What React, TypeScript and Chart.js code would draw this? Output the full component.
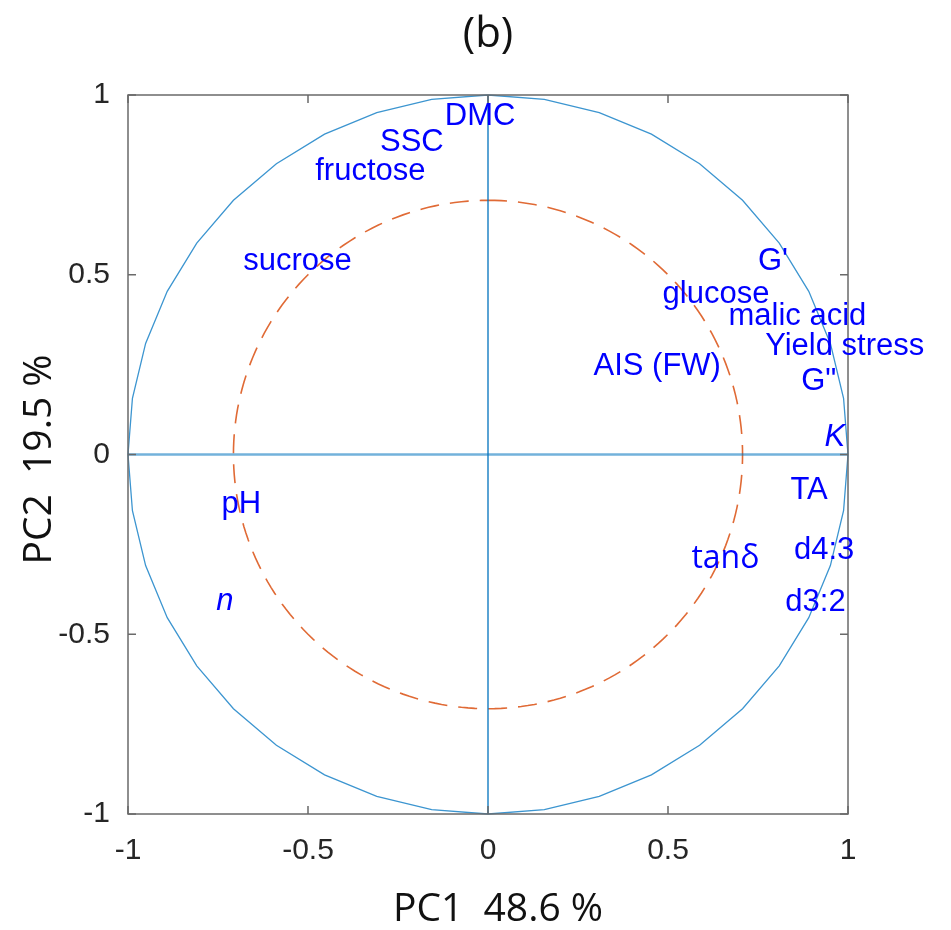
import React, { useEffect, useRef } from "react";
import { Chart, registerables } from "chart.js";

Chart.register(...registerables);

// ---- data ----
const VAR_NAMES = [
  "DMC", "SSC", "fructose", "sucrose", "G'", "glucose", "malic acid",
  "Yield stress", "AIS (FW)", "G\"", "K", "TA", "d4:3", "tanδ", "d3:2", "pH", "n",
];
const PC1_VALUES = [
  -0.12, -0.30, -0.48, -0.68, 0.75, 0.485, 0.668,
  0.77, 0.293, 0.87, 0.935, 0.84, 0.85, 0.565, 0.826, -0.74, -0.755,
];
const PC2_VALUES = [
  0.94, 0.869, 0.786, 0.538, 0.538, 0.446, 0.385,
  0.30, 0.246, 0.203, 0.047, -0.10, -0.266, -0.29, -0.412, -0.14, -0.408,
];
const ITALIC_NAMES = ["K", "n"];
const GREEK_NAMES = ["tanδ"];

const X_TICKS = [-1, -0.5, 0, 0.5, 1];
const Y_TICKS = [-1, -0.5, 0, 0.5, 1];
const X_TITLE = "PC1  48.6 %";
const Y_TITLE = "PC2  19.5 %";
const CHART_TITLE = "(b)";

const UNIT_RADIUS = 1;
const HALF_VAR_RADIUS = Math.SQRT1_2;
const OUTER_SEGMENTS = 40;
const INNER_SEGMENTS = 240;

function circlePath(ctx: CanvasRenderingContext2D, xs: any, ys: any, r: number, n: number) {
  ctx.beginPath();
  for (let i = 0; i <= n; i++) {
    const a = (i / n) * Math.PI * 2;
    const px = xs.getPixelForValue(r * Math.sin(a));
    const py = ys.getPixelForValue(r * Math.cos(a));
    if (i === 0) ctx.moveTo(px, py);
    else ctx.lineTo(px, py);
  }
}

const decorPlugin = {
  id: "decor",
  beforeDatasetsDraw(chart: any) {
    const { ctx, scales } = chart;
    const xs = scales.x;
    const ys = scales.y;
    ctx.save();
    // outer correlation circle
    circlePath(ctx, xs, ys, UNIT_RADIUS, OUTER_SEGMENTS);
    ctx.strokeStyle = "#3C95D0";
    ctx.lineWidth = 1.3;
    ctx.stroke();
    // inner dashed circle
    circlePath(ctx, xs, ys, HALF_VAR_RADIUS, INNER_SEGMENTS);
    ctx.setLineDash([19, 11]);
    ctx.strokeStyle = "#E06A35";
    ctx.lineWidth = 1.6;
    ctx.stroke();
    ctx.setLineDash([]);
    ctx.restore();
  },
  afterDatasetsDraw(chart: any) {
    const { ctx, chartArea: ca, scales } = chart;
    const xs = scales.x;
    const ys = scales.y;
    ctx.save();
    // box
    ctx.strokeStyle = "#6A6A6A";
    ctx.lineWidth = 1.5;
    ctx.strokeRect(ca.left, ca.top, ca.right - ca.left, ca.bottom - ca.top);
    // inward ticks
    const tl = 8;
    ctx.beginPath();
    X_TICKS.forEach((v) => {
      const px = xs.getPixelForValue(v);
      ctx.moveTo(px, ca.bottom);
      ctx.lineTo(px, ca.bottom - tl);
      ctx.moveTo(px, ca.top);
      ctx.lineTo(px, ca.top + tl);
    });
    Y_TICKS.forEach((v) => {
      const py = ys.getPixelForValue(v);
      ctx.moveTo(ca.left, py);
      ctx.lineTo(ca.left + tl, py);
      ctx.moveTo(ca.right, py);
      ctx.lineTo(ca.right - tl, py);
    });
    ctx.stroke();

    // variable labels
    const meta = chart.getDatasetMeta(2);
    ctx.fillStyle = "#0000FF";
    ctx.textAlign = "left";
    ctx.textBaseline = "middle";
    meta.data.forEach((pt: any, i: number) => {
      const name = VAR_NAMES[i];
      if (GREEK_NAMES.includes(name)) {
        ctx.font = "32px 'Open Sans'";
      } else if (ITALIC_NAMES.includes(name)) {
        ctx.font = "italic 31px 'Liberation Sans'";
      } else {
        ctx.font = "31px 'Liberation Sans'";
      }
      ctx.fillText(name, pt.x, pt.y);
    });

    // titles
    ctx.fillStyle = "#111111";
    ctx.textAlign = "center";
    ctx.textBaseline = "alphabetic";
    ctx.font = "42px 'Open Sans'";
    ctx.fillText(CHART_TITLE, (ca.left + ca.right) / 2, 47);
    ctx.font = "39px 'Open Sans'";
    ctx.fillText(X_TITLE, (ca.left + ca.right) / 2 + 10, 921);
    ctx.save();
    ctx.translate(51, (ca.top + ca.bottom) / 2 + 5);
    ctx.rotate(-Math.PI / 2);
    ctx.fillText(Y_TITLE, 0, 0);
    ctx.restore();
    ctx.restore();
  },
};

export default function App() {
  const ref = useRef<HTMLCanvasElement | null>(null);
  useEffect(() => {
    document.body.style.margin = "0";
    const canvas = ref.current;
    if (!canvas) return;
    const tickFont = { family: "'Liberation Sans'", size: 30 };
    const chart = new Chart(canvas, {
      type: "scatter",
      data: {
        datasets: [
          {
            type: "line",
            data: [
              { x: -1, y: 0 },
              { x: 1, y: 0 },
            ],
            borderColor: "rgba(0,114,189,0.55)",
            borderWidth: 2.5,
            pointRadius: 0,
            showLine: true,
          } as any,
          {
            type: "line",
            data: [
              { x: 0, y: -1 },
              { x: 0, y: 1 },
            ],
            borderColor: "#0072BD",
            borderWidth: 1.3,
            pointRadius: 0,
            showLine: true,
          } as any,
          {
            data: PC1_VALUES.map((x, i) => ({ x, y: PC2_VALUES[i] })),
            pointRadius: 0,
            pointHoverRadius: 0,
            backgroundColor: "transparent",
            borderColor: "transparent",
          },
        ],
      },
      options: {
        animation: false,
        responsive: false,
        maintainAspectRatio: false,
        layout: { padding: { top: 95, right: 103, bottom: 0, left: 0 } },
        plugins: {
          legend: { display: false },
          tooltip: { enabled: false },
          title: { display: false },
        },
        scales: {
          x: {
            type: "linear",
            min: -1,
            max: 1,
            grid: { display: false, drawTicks: false },
            border: { display: false },
            afterBuildTicks: (s: any) => {
              s.ticks = X_TICKS.map((v) => ({ value: v }));
            },
            afterFit: (s: any) => {
              s.height = 116;
            },
            ticks: {
              font: tickFont,
              color: "#262626",
              padding: 19,
              maxRotation: 0,
              callback: (v: any) => String(v),
            },
          },
          y: {
            type: "linear",
            min: -1,
            max: 1,
            grid: { display: false, drawTicks: false },
            border: { display: false },
            afterBuildTicks: (s: any) => {
              s.ticks = Y_TICKS.map((v) => ({ value: v }));
            },
            afterFit: (s: any) => {
              s.width = 128;
            },
            ticks: {
              font: tickFont,
              color: "#262626",
              padding: 18,
              callback: (v: any) => String(v),
            },
          },
        },
      },
      plugins: [decorPlugin],
    });
    return () => chart.destroy();
  }, []);
  return (
    <div style={{ position: "absolute", left: 0, top: 0, width: 951, height: 930, background: "#fff" }}>
      <canvas ref={ref} width={951} height={930} style={{ width: 951, height: 930 }} />
    </div>
  );
}
